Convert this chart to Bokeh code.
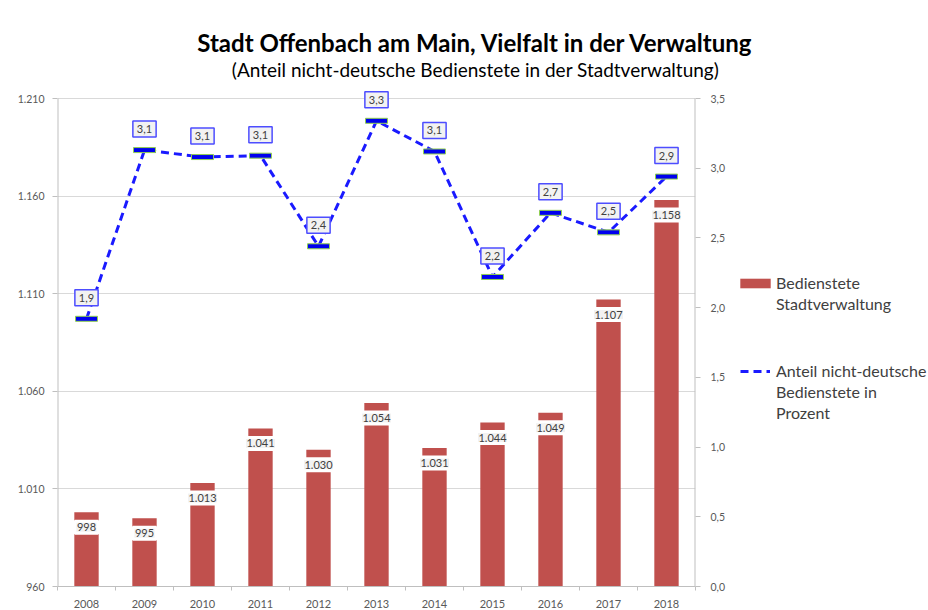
from bokeh.plotting import figure
from bokeh.layouts import row, column
from bokeh.models import (Range1d, LinearAxis, ColumnDataSource, Label,
                          Legend, LegendItem, FixedTicker)
from bokeh.embed import file_html
from bokeh.resources import INLINE

# ---- data ----
years = ["2008", "2009", "2010", "2011", "2012", "2013", "2014", "2015", "2016", "2017", "2018"]
staff = [998, 995, 1013, 1041, 1030, 1054, 1031, 1044, 1049, 1107, 1158]
share = [1.92, 3.13, 3.08, 3.09, 2.44, 3.34, 3.12, 2.22, 2.68, 2.54, 2.94]
left_ticks = [960, 1010, 1060, 1110, 1160, 1210]
left_tick_labels = ["960", "1.010", "1.060", "1.110", "1.160", "1.210"]
right_ticks = [0.0, 0.5, 1.0, 1.5, 2.0, 2.5, 3.0, 3.5]
right_tick_labels = ["0,0", "0,5", "1,0", "1,5", "2,0", "2,5", "3,0", "3,5"]
title_text = "Stadt Offenbach am Main, Vielfalt in der Verwaltung"
subtitle_text = "(Anteil nicht-deutsche Bedienstete in der Stadtverwaltung)"
legend_staff = ["Bedienstete", "Stadtverwaltung"]
legend_share = ["Anteil nicht-deutsche", "Bedienstete in", "Prozent"]

FONT = "Lato"
TXT = "#404040"
AX = "#595959"
BAR = "#c0504d"
BLUE = "#1a1aff"

n = len(years)
xpos = [i + 0.5 for i in range(n)]          # category centres
staff_lbl = [f"{v:,}".replace(",", ".") for v in staff]
share_lbl = [f"{v:.1f}".replace(".", ",") for v in share]
src = ColumnDataSource(dict(x=xpos, staff=staff, share=share))

# frame is a little taller than the value area so top data labels are not cut
PLOT_H, DATA_H = 498, 488
left_top = left_ticks[0] + (left_ticks[-1] - left_ticks[0]) * PLOT_H / DATA_H
right_top = right_ticks[0] + (right_ticks[-1] - right_ticks[0]) * PLOT_H / DATA_H


def bare(fig):
    fig.outline_line_color = None
    fig.xgrid.grid_line_color = None
    fig.ygrid.grid_line_color = None


# ---- title strip ----
p0 = figure(width=928, height=80, x_range=Range1d(0, 1), y_range=Range1d(0, 1),
            output_backend="svg", toolbar_location=None, title=None,
            x_axis_type=None, y_axis_type=None,
            min_border_left=0, min_border_right=0, min_border_top=0, min_border_bottom=0)
bare(p0)
p0.add_layout(Label(x=475, y=38, x_units="screen", y_units="screen", text=title_text,
                    text_align="center", text_baseline="middle", text_font=FONT,
                    text_font_size="24px", text_font_style="bold", text_color="black"))
p0.add_layout(Label(x=475, y=11, x_units="screen", y_units="screen", text=subtitle_text,
                    text_align="center", text_baseline="middle", text_font=FONT,
                    text_font_size="19px", text_color="black"))

# ---- main chart ----
p = figure(width=736, height=530, x_range=Range1d(0, n),
           y_range=Range1d(left_ticks[0], left_top),
           output_backend="svg", toolbar_location=None, title=None,
           min_border_left=57, min_border_right=41, min_border_top=8, min_border_bottom=24)
p.extra_y_ranges = {"pct": Range1d(right_ticks[0], right_top)}
p.outline_line_color = None
p.xgrid.grid_line_color = None
p.ygrid.grid_line_color = "#d9d9d9"

# vertical axis lines only over the value area
p.segment(x0=[0, n], x1=[0, n], y0=[left_ticks[0]] * 2, y1=[left_ticks[-1]] * 2,
          line_color="#bfbfbf", line_width=2)

bars = p.vbar(x="x", top="staff", bottom=left_ticks[0], width=0.42, source=src,
              fill_color=BAR, line_color=None)
line = p.line(x="x", y="share", y_range_name="pct", source=src,
              line_color=BLUE, line_width=3, line_dash="8 5")
p.rect(x="x", y="share", y_range_name="pct", source=src, width=22, height=5,
       width_units="screen", height_units="screen", fill_color="#0000ee",
       line_color="#92d050", line_width=1)

ly = p.left[0]
ly.ticker = FixedTicker(ticks=left_ticks)
ly.major_label_overrides = dict(zip(left_ticks, left_tick_labels))

ry = LinearAxis(y_range_name="pct", ticker=FixedTicker(ticks=right_ticks),
                major_label_overrides=dict(zip(right_ticks, right_tick_labels)))
p.add_layout(ry, "right")

bx = p.below[0]
bx.ticker = FixedTicker(ticks=xpos, minor_ticks=list(range(n + 1)))
bx.major_label_overrides = dict(zip(xpos, years))

for ax in [ly, ry, bx]:
    ax.axis_line_color = "#bfbfbf"
    ax.major_tick_line_color = "#bfbfbf"
    ax.major_tick_out = 5
    ax.major_tick_in = 0
    ax.minor_tick_line_color = None
    ax.major_label_text_font = FONT
    ax.major_label_text_color = AX
    ax.major_label_text_font_size = "11px"
    ax.axis_label = None
ly.axis_line_color = None
ry.axis_line_color = None
ly.major_label_text_font_size = "10.5px"
ry.major_label_text_font_size = "10.5px"
ly.major_label_standoff = 8
ry.major_label_standoff = 10
bx.major_tick_line_color = None
bx.minor_tick_line_color = "#bfbfbf"
bx.minor_tick_out = 4
bx.minor_tick_in = 0
bx.major_label_standoff = 8

for x, v, t in zip(xpos, staff, staff_lbl):
    p.add_layout(Label(x=x, y=v, text=t, y_offset=-15,
                       text_align="center", text_baseline="middle", text_font=FONT,
                       text_font_size="11px", text_color=TXT,
                       background_fill_color="#f2f2f2",
                       border_line_color="white", border_line_width=3, padding=2))
for x, v, t in zip(xpos, share, share_lbl):
    p.add_layout(Label(x=x, y=v, y_range_name="pct", text=t,
                       y_offset=21, text_align="center", text_baseline="middle",
                       text_font=FONT, text_font_size="11px", text_color=TXT,
                       background_fill_color="#f2f2f2",
                       border_line_color="#4d4dff", border_line_width=1.5, padding=4))

# ---- legend panel (glyph renderers kept outside its visible range) ----
p2 = figure(width=192, height=530, x_range=Range1d(-3, -2), y_range=Range1d(-3, -2),
            output_backend="svg", toolbar_location=None, title=None,
            x_axis_type=None, y_axis_type=None,
            min_border_left=0, min_border_right=0, min_border_top=0, min_border_bottom=0)
bare(p2)
lb = p2.vbar(x="x", top="staff", width=0.42, source=src, fill_color=BAR, line_color=None)
ll = p2.line(x="x", y="share", source=src, line_color=BLUE, line_width=3, line_dash="8 5")
ghost = p2.line(x="x", y="share", source=src, line_alpha=0)

common = dict(border_line_color=None, background_fill_alpha=0, label_text_font=FONT,
              label_text_font_size="16px", label_text_color=TXT, spacing=2,
              margin=0, padding=0)
leg_a = Legend(items=[LegendItem(label=legend_staff[0], renderers=[lb])] +
                     [LegendItem(label=t, renderers=[ghost]) for t in legend_staff[1:]],
               location=(0, 273), glyph_width=38, glyph_height=12, label_standoff=2,
               **common)
leg_b = Legend(items=[LegendItem(label=legend_share[0], renderers=[ll])] +
                     [LegendItem(label=t, renderers=[ghost]) for t in legend_share[1:]],
               location=(4, 164), glyph_width=30, glyph_height=10, label_standoff=6,
               **common)
p2.add_layout(leg_a)
p2.add_layout(leg_b)

layout = column(p0, row(p, p2, spacing=0), spacing=0)
open("out.html", "w").write(file_html(layout, INLINE))
